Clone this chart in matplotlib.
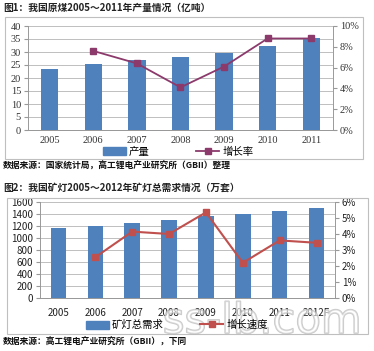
import matplotlib.pyplot as plt
import matplotlib.patheffects as pe
from matplotlib.patches import Rectangle
from matplotlib.lines import Line2D
import numpy as np

plt.rcParams['font.family'] = ['Noto Sans CJK SC', 'DejaVu Sans']

# 图1 数据
years1 = ['2005', '2006', '2007', '2008', '2009', '2010', '2011']
output1 = [23.5, 25.3, 26.9, 28.0, 29.7, 32.4, 35.2]
growth1 = [np.nan, 7.6, 6.4, 4.1, 6.1, 8.8, 8.8]

# 图2 数据
years2 = ['2005', '2006', '2007', '2008', '2009', '2010', '2011', '2012F']
demand2 = [1165, 1200, 1250, 1300, 1360, 1400, 1450, 1500]
growth2 = [np.nan, 2.55, 4.15, 4.0, 5.35, 2.2, 3.6, 3.45]

bar_color = '#4F81BD'
line1_color = '#8B3A6B'
line2_color = '#C0504D'
grid_color = '#BFBFBF'

W, H = 374, 351
fig = plt.figure(figsize=(W / 100, H / 100), dpi=100)


def fx(x):
    return x / W


def fy(y):
    return 1 - y / H


# 外框
fig.patches.append(Rectangle((fx(5), fy(159)), fx(358), 142 / H, transform=fig.transFigure,
                             fill=False, edgecolor='#BFBFBF', lw=0.8))
fig.patches.append(Rectangle((fx(7), fy(334)), fx(361), 136 / H, transform=fig.transFigure,
                             fill=False, edgecolor='#BFBFBF', lw=0.8))

# 标题
fig.text(fx(3), fy(8), '图1：我国原煤2005～2011年产量情况（亿吨）', fontsize=7, fontweight='bold',
         va='center', color='#222222')
fig.text(fx(3), fy(166), '数据来源：国家统计局，高工锂电产业研究所（GBII）整理', fontsize=6.3,
         fontweight='bold', va='center', color='#111111')
fig.text(fx(3), fy(188), '图2：我国矿灯2005～2012年矿灯总需求情况（万套）', fontsize=7, fontweight='bold',
         va='center', color='#222222')
fig.text(fx(3), fy(342), '数据来源：高工锂电产业研究所（GBII），下同', fontsize=6.3,
         fontweight='bold', va='center', color='#111111')


def style(ax, ax2, xpad):
    for a in (ax, ax2):
        for s in a.spines.values():
            s.set_visible(False)
        a.spines['bottom'].set_visible(True)
        a.spines['bottom'].set_color('#999999')
        a.spines['bottom'].set_linewidth(0.7)
    ax.spines['left'].set_visible(True)
    ax.spines['left'].set_color('#999999')
    ax.spines['left'].set_linewidth(0.7)
    ax2.spines['right'].set_visible(True)
    ax2.spines['right'].set_color('#999999')
    ax2.spines['right'].set_linewidth(0.7)
    ax.yaxis.grid(True, color=grid_color, lw=0.7)
    ax.set_axisbelow(True)
    ax.tick_params(axis='x', length=0, pad=xpad)
    ax.tick_params(axis='y', length=3, color='#999999', pad=2)
    ax2.tick_params(axis='y', length=3, color='#999999', pad=2)


# ---- 图1 ----
ax1 = fig.add_axes([fx(28), fy(130), 305 / W, 104 / H])
x1 = np.arange(len(years1))
ax1.bar(x1, output1, width=0.4, color=bar_color, zorder=2)
ax1.set_xlim(-0.5, len(years1) - 0.5)
ax1.set_ylim(0, 40)
ax1.set_yticks(range(0, 41, 5))
ax1.set_xticks(x1)
ax1.set_xticklabels(years1, family='Liberation Serif', fontsize=7.5, color='#333333')
ax1.set_yticklabels([str(v) for v in range(0, 41, 5)], family='Liberation Serif', fontsize=7.5, color='#333333')
ax1b = ax1.twinx()
ax1b.plot(x1, growth1, color=line1_color, lw=1.3, marker='s', markersize=4.5, zorder=3)
ax1b.set_ylim(0, 10)
ax1b.set_yticks(range(0, 11, 2))
ax1b.set_yticklabels([f'{v}%' for v in range(0, 11, 2)], family='Liberation Serif', fontsize=7.5, color='#333333')
style(ax1, ax1b, 4)
fig.legend(handles=[Rectangle((0, 0), 1, 1, color=bar_color),
                    Line2D([], [], color=line1_color, lw=1.3, marker='s', markersize=4.5)],
           labels=['产量', '增长率'], loc='center', bbox_to_anchor=(fx(178), fy(152)), ncol=2,
           frameon=False, fontsize=7.5, handlelength=2.2, handleheight=0.8, columnspacing=4.5,
           handletextpad=0.3, borderpad=0.1)

# ---- 图2 ----
ax2 = fig.add_axes([fx(40), fy(298), 295 / W, 96 / H])
x2 = np.arange(len(years2))
ax2.bar(x2, demand2, width=0.42, color=bar_color, zorder=2)
ax2.set_xlim(-0.5, len(years2) - 0.5)
ax2.set_ylim(0, 1600)
ax2.set_yticks(range(0, 1601, 200))
ax2.set_xticks(x2)
ax2.set_xticklabels(years2, fontsize=7, color='#222222')
for t in ax2.get_yticklabels():
    t.set_fontsize(7)
    t.set_color('#222222')
ax2b = ax2.twinx()
ax2b.plot(x2, growth2, color=line2_color, lw=1.5, marker='s', markersize=4.5, zorder=3)
ax2b.set_ylim(0, 6)
ax2b.set_yticks(range(0, 7))
ax2b.set_yticklabels([f'{v}%' for v in range(0, 7)], fontsize=7, color='#222222')
style(ax2, ax2b, 7)
leg2 = fig.legend(handles=[Rectangle((0, 0), 1, 1, color=bar_color),
                           Line2D([], [], color=line2_color, lw=1.5, marker='s', markersize=4.5)],
                  labels=['矿灯总需求', '增长速度'], loc='center', bbox_to_anchor=(fx(177), fy(325)), ncol=2,
                  frameon=False, fontsize=7.5, handlelength=2.2, handleheight=0.8, columnspacing=3.5,
                  handletextpad=0.3, borderpad=0.1)
leg2.set_zorder(20)

# 水印
fig.text(fx(262), fy(321), 'ss-lb.com', fontsize=30, ha='center', va='center',
         color=(1, 1, 1, 0.35), family='DejaVu Sans', zorder=10,
         path_effects=[pe.withStroke(linewidth=1.2, foreground=(0.7, 0.7, 0.7, 0.7))])

fig.savefig('out.png', dpi=100)
